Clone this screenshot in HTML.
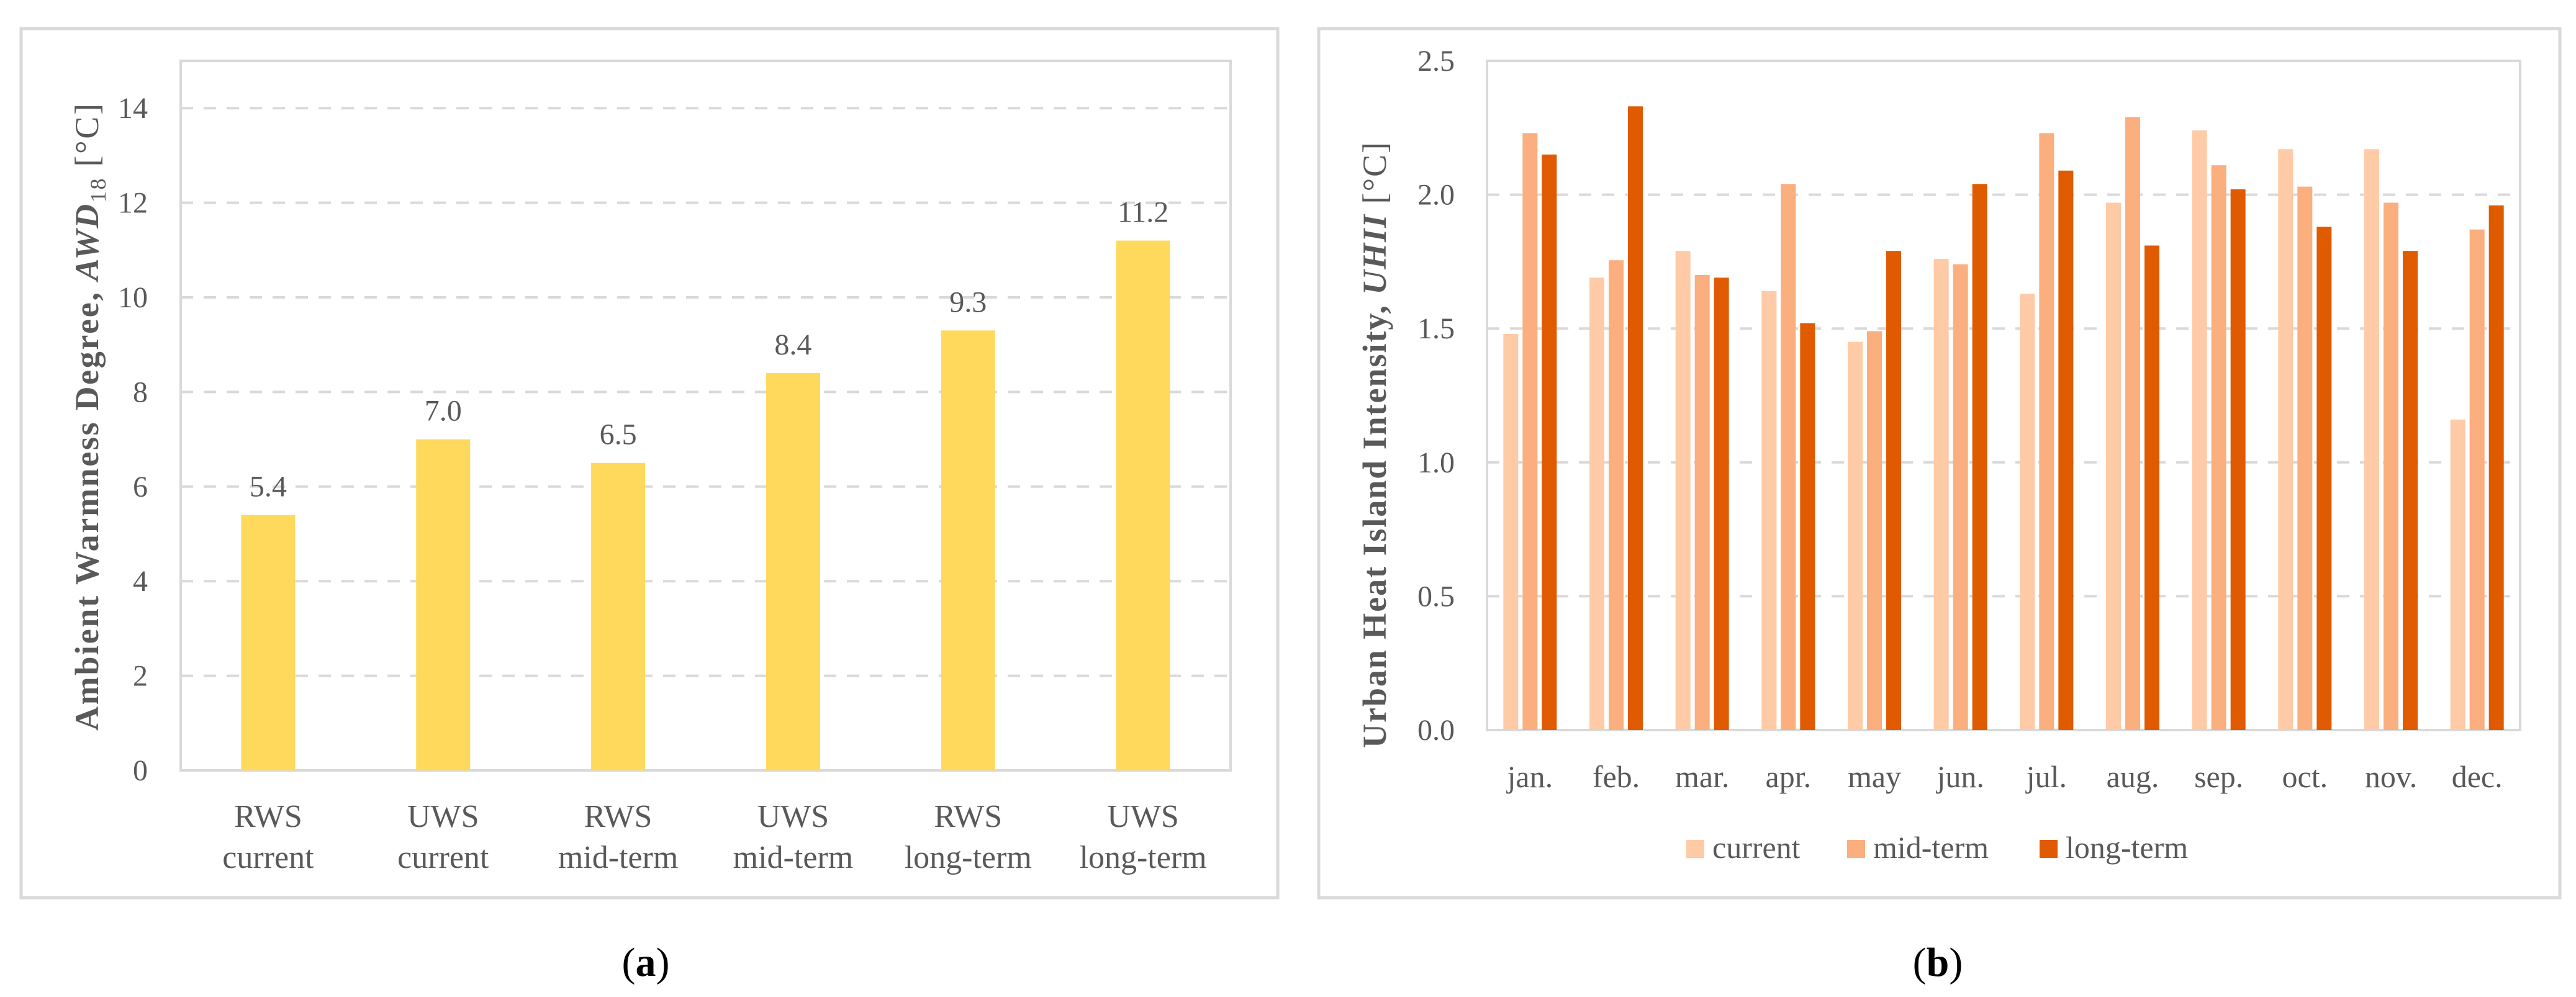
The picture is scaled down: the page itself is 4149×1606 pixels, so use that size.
<!DOCTYPE html>
<html><head><meta charset="utf-8">
<style>
html,body{margin:0;padding:0;background:#fff;}
svg{display:block;}
text{font-family:"Liberation Serif",serif;fill:#595959;}
</style></head>
<body>
<svg id="chart" width="4149" height="1606" viewBox="0 0 4149 1606" xmlns="http://www.w3.org/2000/svg">
<rect x="34" y="46" width="2024" height="1400" fill="#fff" stroke="#d9d9d9" stroke-width="5"/>
<rect x="2124" y="46" width="1999" height="1400" fill="#fff" stroke="#d9d9d9" stroke-width="5"/>
<g id="ga"></g>
<g id="gb"></g>
<text x="1040" y="1572" font-size="66" text-anchor="middle" style="fill:#000">(<tspan font-weight="bold">a</tspan>)</text>
<text x="3121" y="1572" font-size="66" text-anchor="middle" style="fill:#000">(<tspan font-weight="bold">b</tspan>)</text>
</svg>
<script>
const aCategoriesTop = ["RWS","UWS","RWS","UWS","RWS","UWS"];
const aCategoriesBottom = ["current","current","mid-term","mid-term","long-term","long-term"];
const aValues = [5.4, 7.0, 6.5, 8.4, 9.3, 11.2];
const aTicks = [0,2,4,6,8,10,12,14];

const bMonths = ["jan.","feb.","mar.","apr.","may","jun.","jul.","aug.","sep.","oct.","nov.","dec."];
const bCurrent = [1.48,1.69,1.79,1.64,1.45,1.76,1.63,1.97,2.24,2.17,2.17,1.16];
const bMid = [2.23,1.755,1.70,2.04,1.49,1.74,2.23,2.29,2.11,2.03,1.97,1.87];
const bLong = [2.15,2.33,1.69,1.52,1.79,2.04,2.09,1.81,2.02,1.88,1.79,1.96];
const bTicks = [0.0,0.5,1.0,1.5,2.0,2.5];
const bSeriesNames = ["current","mid-term","long-term"];

const NS="http://www.w3.org/2000/svg";
function mk(tag, attrs, parent){const e=document.createElementNS(NS,tag);for(const k in attrs)e.setAttribute(k,attrs[k]);parent.appendChild(e);return e;}

// Chart A
(function(){
  const g=document.getElementById('ga');
  const L=291,R=1982,T=98,B=1241,max=15;
  const y=v=>B-(v/max)*(B-T);
  const step=(R-L)/aValues.length;
  const x=i=>L+step*(i+0.5);
  aTicks.forEach(t=>{
    if(t>0){const ln=mk('line',{x1:L,x2:R,y1:y(t),y2:y(t),stroke:'#d9d9d9','stroke-width':4,'stroke-dasharray':'20 17'},g);
      
      }
    const tx=mk('text',{x:238,y:y(t)+16,'font-size':48,'text-anchor':'end'},g);tx.textContent=String(t);
    
    
  });
  const fr=mk('rect',{x:L,y:T,width:R-L,height:B-T,fill:'none',stroke:'#d9d9d9','stroke-width':4},g);
  
  
  aValues.forEach((v,i)=>{
    const w=87;
    const r=mk('rect',{x:x(i)-w/2,y:y(v),width:w,height:B-y(v),fill:'#FFD95C'},g);
    
    
    const lb=mk('text',{x:x(i),y:y(v)-30,'font-size':48,'text-anchor':'middle'},g);lb.textContent=v.toFixed(1);
    
    
    const c1=mk('text',{x:x(i),y:1332,'font-size':52,'text-anchor':'middle'},g);c1.textContent=aCategoriesTop[i];
    
    
    const c2=mk('text',{x:x(i),y:1398,'font-size':52,'text-anchor':'middle'},g);c2.textContent=aCategoriesBottom[i];
    
    
  });
  const tt=mk('text',{transform:'translate(158,672) rotate(-90)','font-size':54,'font-weight':'bold','text-anchor':'middle',textLength:1010,lengthAdjust:'spacing'},g);
  tt.innerHTML='Ambient Warmness Degree, <tspan font-style="italic">AWD</tspan><tspan font-size="36" dy="12" font-weight="normal">18</tspan><tspan dy="-12" font-weight="normal"> [°C]</tspan>';
  
  
})();

// Chart B
(function(){
  const g=document.getElementById('gb');
  const L=2395,R=4059,T=98,B=1176,max=2.5;
  const y=v=>B-(v/max)*(B-T);
  const step=(R-L)/bMonths.length;
  const cx=i=>L+step*(i+0.5);
  bTicks.forEach(t=>{
    if(t>0&&t<2.5){const ln=mk('line',{x1:L,x2:R,y1:y(t),y2:y(t),stroke:'#d9d9d9','stroke-width':4,'stroke-dasharray':'20 17'},g);
      
      }
    const tx=mk('text',{x:2343,y:y(t)+16,'font-size':48,'text-anchor':'end'},g);tx.textContent=t.toFixed(1);
    
    
  });
  const fr=mk('rect',{x:L,y:T,width:R-L,height:B-T,fill:'none',stroke:'#d9d9d9','stroke-width':4},g);
  
  
  const series=[bCurrent,bMid,bLong];
  const colors=['#FFCAA6','#FBAE7E','#E05A00'];
  const w=24,gap=31;
  bMonths.forEach((m,i)=>{
    series.forEach((s,k)=>{
      const v=s[i];
      const r=mk('rect',{x:cx(i)+(k-1)*gap-w/2,y:y(v),width:w,height:B-y(v),fill:colors[k]},g);
      
      
    });
    const tx=mk('text',{x:cx(i),y:1268,'font-size':50,'text-anchor':'middle'},g);tx.textContent=m;
    
    
  });
  const legX=[2716,2975,3285];
  bSeriesNames.forEach((n,k)=>{
    const sq=mk('rect',{x:legX[k],y:1353,width:29,height:29,fill:colors[k]},g);
    
    
    const tx=mk('text',{x:legX[k]+42,y:1382,'font-size':50},g);tx.textContent=n;
    
    
  });
  const tt=mk('text',{transform:'translate(2232,717) rotate(-90)','font-size':54,'font-weight':'bold','text-anchor':'middle',textLength:976,lengthAdjust:'spacing'},g);
  tt.innerHTML='Urban Heat Island Intensity, <tspan font-style="italic">UHII</tspan><tspan font-weight="normal"> [°C]</tspan>';
  
  
})();
</script>
</body></html>
